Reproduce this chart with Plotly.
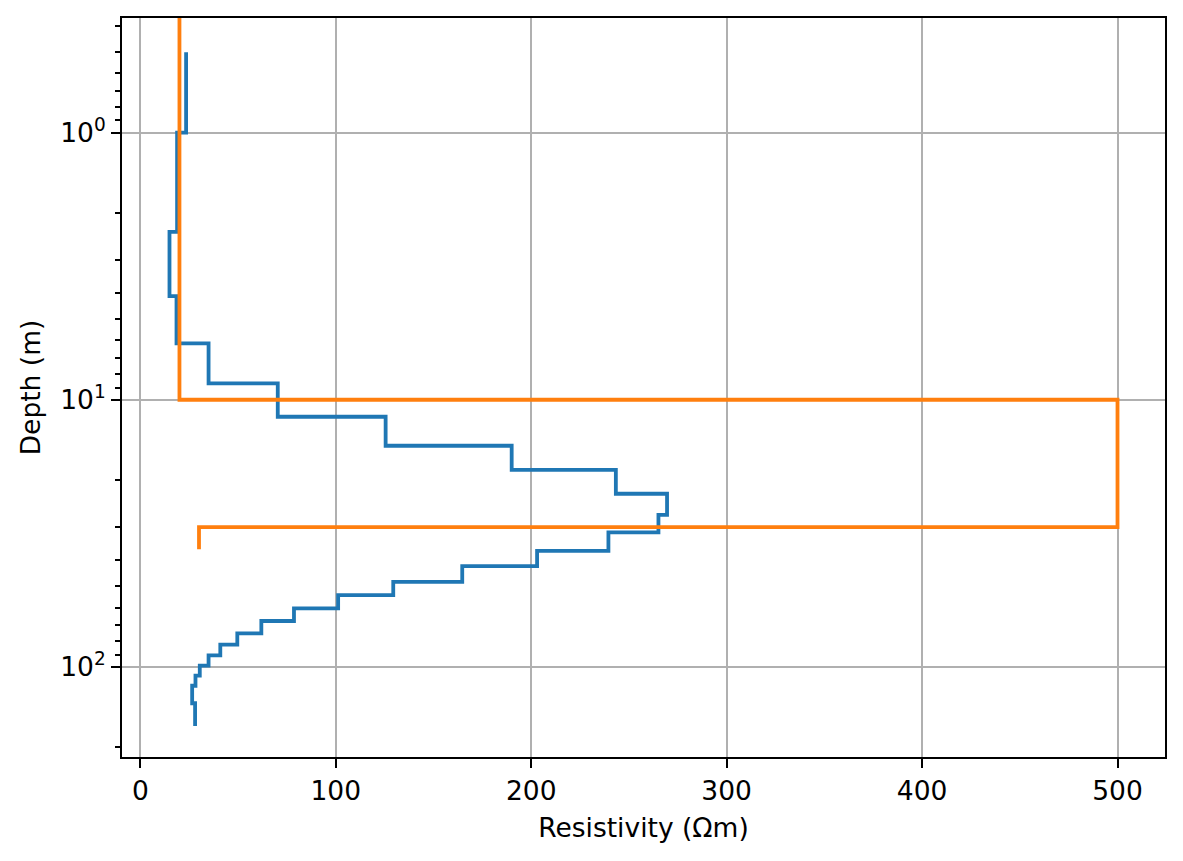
"""
Layered 1D resistivity models: inverted (blue) vs synthetic (orange).
Depth on a reversed log axis, resistivity on a linear axis.
"""
import plotly.graph_objects as go

# Inverted model: layer boundaries (m) and the resistivity of each layer (Ohm m)
inv_depth = [0.5, 1.0, 2.35, 4.09, 6.15, 8.68, 11.58, 14.87, 18.3, 22.5, 27.0,
             31.4, 36.8, 42.0, 48.1, 53.9, 60.4, 67.4, 75.0, 82.7, 90.6, 99.1,
             108.0, 117.8, 137.0, 166.7]
inv_res = [23.4, 18.8, 14.9, 18.5, 34.9, 70.3, 125.5, 190.0, 243.3, 269.5,
           265.1, 239.5, 203.0, 164.7, 129.4, 101.2, 78.6, 61.9, 49.6, 40.9,
           34.9, 30.4, 28.2, 26.5, 28.0]

# Synthetic (true) model
syn_depth = [0.3, 10.0, 30.0, 36.3]
syn_res = [20.0, 500.0, 30.0]

y_major = [1, 10, 100]
y_major_text = ["10<sup>0</sup>", "10<sup>1</sup>", "10<sup>2</sup>"]
y_minor = [m * 10 ** e for e in (-1, 0, 1, 2) for m in range(2, 10)]

BLUE = "#1f77b4"
ORANGE = "#ff7f0e"
FONT = "DejaVu Sans"
FS = 26.5


def step_xy(depth, res):
    # one vertical segment per layer, joined by horizontal jumps
    xs, ys = [], []
    for i, r in enumerate(res):
        xs += [r, r]
        ys += [depth[i], depth[i + 1]]
    return xs, ys


fig = go.Figure()

x, y = step_xy(inv_depth, inv_res)
fig.add_trace(go.Scatter(x=x, y=y, mode="lines", line=dict(color=BLUE, width=3.8),
                         showlegend=False))

x, y = step_xy(syn_depth, syn_res)
fig.add_trace(go.Scatter(x=x, y=y, mode="lines", line=dict(color=ORANGE, width=3.8),
                         showlegend=False))

axis_common = dict(
    showline=True, linecolor="black", linewidth=2, mirror=True,
    showgrid=True, gridcolor="#b0b0b0", gridwidth=2,
    ticks="outside", ticklen=9, tickwidth=2, tickcolor="black",
    zeroline=False,
    tickfont=dict(family=FONT, size=FS, color="black"),
)

fig.update_xaxes(
    range=[-9.4, 524.3],
    tickvals=[0, 100, 200, 300, 400, 500],
    title=dict(text="Resistivity (Ωm)", font=dict(family=FONT, size=FS, color="black"),
               standoff=14),
    **axis_common,
)
fig.update_yaxes(
    type="log",
    range=[2.338, -0.4296],
    tickvals=y_major,
    ticktext=y_major_text,
    minor=dict(tickvals=y_minor, ticks="outside", ticklen=5, tickwidth=1.5,
               tickcolor="black", showgrid=False),
    title=dict(text="Depth (m)", font=dict(family=FONT, size=FS, color="black"),
               standoff=12),
    **axis_common,
)

# the page adds an 8px body margin, so the figure is drawn 8px in from the corner
fig.update_layout(
    width=1175,
    height=853,
    margin=dict(l=114, r=18, t=10, b=104, autoexpand=False),
    plot_bgcolor="white",
    paper_bgcolor="white",
    font=dict(family=FONT, size=FS, color="black"),
)

fig.write_html("out.html")
